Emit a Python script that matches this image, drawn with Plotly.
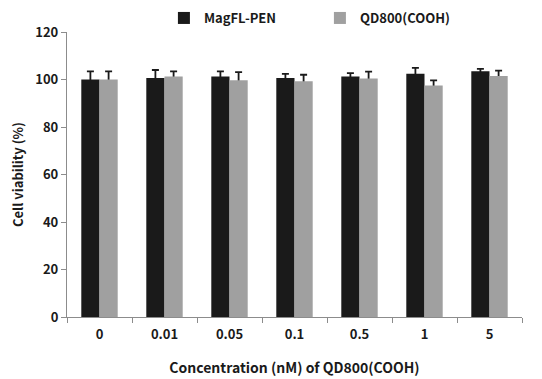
import plotly.graph_objects as go

categories = ["0", "0.01", "0.05", "0.1", "0.5", "1", "5"]
magfl = [100.0, 100.6, 101.3, 100.6, 101.3, 102.4, 103.5]
magfl_err = [3.4, 3.4, 2.1, 1.8, 1.4, 2.5, 1.0]
qd800 = [100.0, 101.3, 99.7, 99.3, 100.4, 97.5, 101.5]
qd800_err = [3.4, 2.1, 3.4, 2.7, 2.9, 2.1, 2.2]
y_ticks = [0, 20, 40, 60, 80, 100, 120]

FONT = "Noto Sans CJK KR"
BLACK = "#1a1a1a"
GRAY = "#a0a0a0"

fig = go.Figure()
# error bars first (symmetric), visible bars drawn over them so only the upper half shows
for vals, errs, grp in [(magfl, magfl_err, "a"), (qd800, qd800_err, "b")]:
    fig.add_trace(go.Bar(
        x=categories, y=vals, offsetgroup=grp, showlegend=False, hoverinfo="skip",
        marker=dict(color="rgba(0,0,0,0)", line=dict(width=0)),
        error_y=dict(type="data", array=errs, symmetric=True,
                     color=BLACK, thickness=1.8, width=3.5),
    ))
fig.add_trace(go.Bar(
    x=categories, y=magfl, name="MagFL-PEN", offsetgroup="a",
    marker=dict(color=BLACK, line=dict(width=0)),
))
fig.add_trace(go.Bar(
    x=categories, y=qd800, name="QD800(COOH)", offsetgroup="b",
    marker=dict(color=GRAY, line=dict(width=0)),
))

# page body has an 8px default margin, so the figure is sized/offset to compensate
W, H = 534, 371
fig.update_layout(
    width=W, height=H,
    margin=dict(l=59, r=20, t=24, b=62, autoexpand=False),
    paper_bgcolor="white", plot_bgcolor="white",
    barmode="group", bargap=0.44, bargroupgap=0,
    font=dict(family=FONT, size=13, color=BLACK),
    showlegend=True,
    legend=dict(orientation="h", x=0.213, xanchor="left",
                y=1 - 10 / H, yref="container", yanchor="middle",
                font=dict(family=FONT, size=13, color=BLACK, weight="bold"),
                entrywidth=111, entrywidthmode="pixels", itemwidth=30,
                bgcolor="rgba(0,0,0,0)"),
    xaxis=dict(
        type="category", showline=True, linecolor="#8c8c8c", linewidth=1.2,
        ticks="outside", tickson="boundaries", ticklen=5, tickcolor="#8c8c8c",
        tickfont=dict(family=FONT, size=13, weight="bold"), ticklabelstandoff=5,
        title=dict(text="Concentration (nM) of QD800(COOH)",
                   font=dict(family=FONT, size=14, weight="bold"), standoff=21),
        showgrid=False, zeroline=False, automargin=False,
    ),
    yaxis=dict(
        range=[0, 120], tickvals=y_ticks, showline=True, linecolor="#8c8c8c", linewidth=1.2,
        ticks="outside", ticklen=5, tickcolor="#8c8c8c",
        tickfont=dict(family=FONT, size=13, weight="bold"),
        title=dict(text="Cell viability (%)", font=dict(family=FONT, size=13, weight="bold"), standoff=8),
        showgrid=False, zeroline=False, automargin=False,
    ),
)

fig.write_html("out.html")
